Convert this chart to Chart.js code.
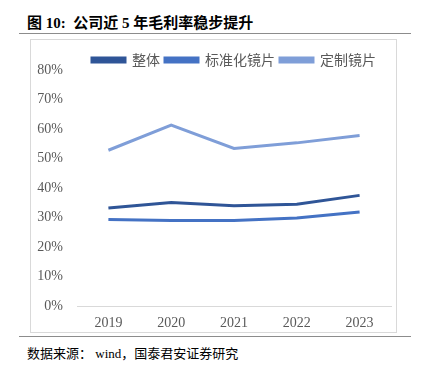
<!DOCTYPE html>
<html lang="zh">
<head>
  <meta charset="utf-8">
  <script src="https://cdn.jsdelivr.net/npm/chart.js@4.4.0/dist/chart.umd.min.js"></script>
  <style>
    body { margin: 0; width: 423px; height: 366px; background: #fff; position: relative; overflow: hidden; }
    .title {
      position: absolute; left: 27px; top: 11px;
      font-family: 'Liberation Serif', 'Noto Sans CJK SC', serif;
      font-size: 15px; font-weight: bold; color: #000; white-space: pre;
    }
    .rule { position: absolute; left: 19px; width: 392px; height: 1px; background: #8c8c8c; }
    .box {
      position: absolute; left: 30px; top: 39px; width: 365px; height: 292px;
      border: 1px solid #d9d9d9;
    }
    .source {
      position: absolute; left: 27px; top: 343px; white-space: pre;
      font-family: 'Liberation Serif', 'Noto Sans CJK SC', serif;
      font-size: 13px; color: #000;
    }
  </style>
</head>
<body>
  <div class="title">图 10:  公司近 5 年毛利率稳步提升</div>
  <div class="rule" style="top:33px"></div>
  <div class="box"><canvas id="c" width="365" height="292"></canvas></div>
  <div class="rule" style="top:336px"></div>
  <div class="source">数据来源： wind，国泰君安证券研究</div>

  <script>
    const years = ['2019', '2020', '2021', '2022', '2023'];
    const overall = [33.2, 35.1, 34.0, 34.5, 37.5];
    const standard = [29.3, 29.0, 29.0, 29.8, 31.9];
    const custom = [52.8, 61.3, 53.4, 55.3, 57.8];

    const tickFont = { family: "'Liberation Serif', serif", size: 14 };

    // legend sits tight against the plot, so trim its reserved height
    const tightLegend = {
      id: 'tightLegend',
      beforeLayout(chart) {
        const lg = chart.legend;
        if (lg && !lg._tight) {
          const fit = lg.fit;
          lg.fit = function () { fit.call(this); this.height -= 7; };
          lg._tight = true;
        }
      }
    };

    new Chart(document.getElementById('c'), {
      type: 'line',
      data: {
        labels: years,
        datasets: [
          { label: '整体', data: overall, borderColor: '#2f5597', backgroundColor: '#2f5597', borderWidth: 3, pointRadius: 0, tension: 0 },
          { label: '标准化镜片', data: standard, borderColor: '#4472c4', backgroundColor: '#4472c4', borderWidth: 3, pointRadius: 0, tension: 0 },
          { label: '定制镜片', data: custom, borderColor: '#7f9ed8', backgroundColor: '#7f9ed8', borderWidth: 3, pointRadius: 0, tension: 0 }
        ]
      },
      plugins: [tightLegend],
      options: {
        responsive: false,
        animation: false,
        layout: { padding: { top: 8, right: 5, bottom: 0, left: 0 } },
        plugins: {
          legend: {
            fullSize: false,
            labels: {
              boxWidth: 33, boxHeight: 4, padding: 5,
              color: '#595959',
              font: { family: "'Noto Sans CJK SC', sans-serif", size: 14 }
            }
          },
          tooltip: { enabled: false }
        },
        scales: {
          x: {
            offset: true,
            grid: { display: false, offset: true, drawTicks: false },
            border: { display: true, color: '#d9d9d9' },
            afterFit: s => { s.height = 26; },
            ticks: { color: '#595959', font: tickFont, padding: 9 }
          },
          y: {
            min: 0, max: 80,
            grid: { display: false, drawTicks: false },
            border: { display: false },
            afterFit: s => { s.width = 46; },
            ticks: { stepSize: 10, color: '#595959', font: tickFont, padding: 14, callback: v => v + '%' }
          }
        }
      }
    });
  </script>
</body>
</html>
